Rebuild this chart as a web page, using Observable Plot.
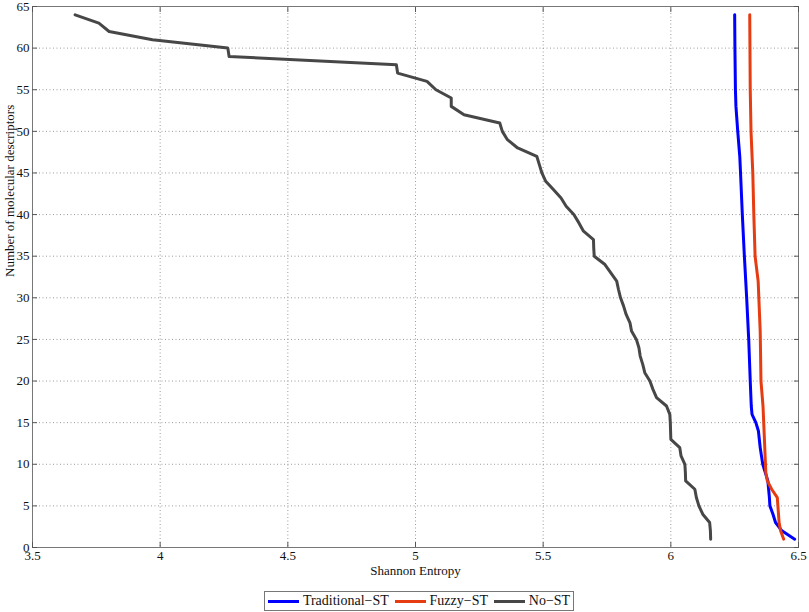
<!DOCTYPE html>
<html>
<head>
<meta charset="utf-8">
<script src="https://cdn.jsdelivr.net/npm/d3@7"></script>
<script src="https://cdn.jsdelivr.net/npm/@observablehq/plot@0.6"></script>
<style>
  html, body { margin: 0; padding: 0; background: #fff; }
  #wrap { position: relative; width: 809px; height: 612px; font-family: "Liberation Serif", "Times New Roman", Times, serif; }
  #chart svg, #chart svg text { font-family: "Liberation Serif", "Times New Roman", Times, serif !important; }
  #legend { position: absolute; left: 264px; top: 591px; width: 308px; height: 18px; border: 1px solid #777; background: #fff;
            display: flex; align-items: center; justify-content: space-around; font-size: 14px; color: #111; box-sizing: content-box;
            font-family: "Liberation Serif", "Times New Roman", Times, serif; }
  .item { display: flex; align-items: center; }
  .sw { width: 31px; height: 3px; margin-right: 4px; }
</style>
</head>
<body>
<div id="wrap"><div id="chart"></div><div id="legend"></div></div>
<script>
const seriesNames = ["Traditional\u2212ST", "Fuzzy\u2212ST", "No\u2212ST"];
const seriesColors = ["#0000ff", "#e63c12", "#474747"];

// No-ST: descriptors count n and Shannon entropy v
const noST_n = [64,63,62,61,60,59,58,57,56,55,54,53,52,51,50,49,48,47,46,45,44,43,42,41,40,39,38,37,36,35,34,33,32,31,30,29,28,27,26,25,24,23,22,21,20,19,18,17,16,15,14,13,12,11,10,9,8,7,6,5,4,3,2,1];
const noST_v = [3.667,3.76,3.80,3.97,4.265,4.27,4.925,4.93,5.045,5.08,5.14,5.14,5.19,5.33,5.34,5.36,5.40,5.475,5.485,5.495,5.51,5.54,5.57,5.59,5.62,5.64,5.658,5.697,5.698,5.70,5.742,5.765,5.788,5.795,5.803,5.815,5.825,5.84,5.846,5.865,5.875,5.88,5.89,5.898,5.918,5.93,5.944,5.983,5.996,5.998,5.999,6.0,6.035,6.04,6.055,6.057,6.058,6.094,6.10,6.11,6.125,6.152,6.155,6.156];

// Traditional-ST
const trad_n = [64,60,55,53,50,47,45,40,35,30,25,20,17,16,15,14,12,11,10,9,8,7,6,5,4,3,2,1];
const trad_v = [6.250,6.251,6.253,6.255,6.262,6.270,6.273,6.280,6.288,6.297,6.305,6.311,6.315,6.318,6.333,6.343,6.350,6.355,6.360,6.370,6.380,6.383,6.386,6.388,6.400,6.410,6.435,6.485];

// Fuzzy-ST
const fuzzy_n = [64,55,50,45,40,35,33,32,26,20,17,9,8,7,6,3,2,1];
const fuzzy_v = [6.309,6.311,6.314,6.321,6.325,6.330,6.338,6.342,6.350,6.353,6.361,6.372,6.378,6.395,6.417,6.424,6.430,6.442];

const xTicks = [3.5,4,4.5,5,5.5,6,6.5];
const yTicks = [0,5,10,15,20,25,30,35,40,45,50,55,60,65];

const rows = [];
[[trad_n, trad_v, 0], [fuzzy_n, fuzzy_v, 1], [noST_n, noST_v, 2]].forEach(([ns, vs, k]) => {
  ns.forEach((n, i) => rows.push({series: seriesNames[k], n, v: vs[i]}));
});

const font = '"Liberation Serif", "Times New Roman", Times, serif';
const plot = Plot.plot({
  width: 809,
  height: 583,
  marginLeft: 32,
  marginRight: 11,
  marginTop: 6,
  marginBottom: 36,
  style: {fontFamily: font, fontSize: "13px", color: "#111", background: "#fff"},
  x: {domain: [3.5, 6.5]},
  y: {domain: [0, 65]},
  color: {domain: seriesNames, range: seriesColors},
  marks: [
    Plot.gridX(xTicks.slice(1, -1), {stroke: "#9a9a9a", strokeOpacity: 1, strokeDasharray: "1,2.5"}),
    Plot.gridY(yTicks.slice(1, -1), {stroke: "#9a9a9a", strokeOpacity: 1, strokeDasharray: "1,2.5"}),
    Plot.line(rows, {x: "v", y: "n", z: "series", stroke: "series", strokeWidth: 3, strokeLinejoin: "round"}),
    Plot.frame({stroke: "#777"}),
    Plot.axisX(xTicks, {anchor: "bottom", tickSize: -5, stroke: "#555", tickFormat: () => "", label: null}),
    Plot.axisX(xTicks, {anchor: "top", tickSize: -5, stroke: "#555", tickFormat: () => "", label: null}),
    Plot.axisY(yTicks, {anchor: "left", tickSize: -5, stroke: "#555", tickFormat: () => "", label: null}),
    Plot.axisY(yTicks, {anchor: "right", tickSize: -5, stroke: "#555", tickFormat: () => "", label: null}),
    Plot.axisX(xTicks, {anchor: "bottom", tickSize: 0, tickPadding: 3, tickFormat: d => String(d), label: null, fontSize: 13}),
    Plot.axisY(yTicks, {anchor: "left", tickSize: 0, tickPadding: 3, tickFormat: d => String(d), label: null, fontSize: 13}),
    Plot.text(["Shannon Entropy"], {frameAnchor: "bottom", dy: 27, fontSize: 13}),
    Plot.text(["Number of molecular descriptors"], {frameAnchor: "left", rotate: -90, dx: -23, fontSize: 13})
  ]
});
document.getElementById("chart").appendChild(plot);

const legend = document.getElementById("legend");
seriesNames.forEach((name, i) => {
  const it = document.createElement("div");
  it.className = "item";
  const sw = document.createElement("span");
  sw.className = "sw";
  sw.style.background = seriesColors[i];
  const tx = document.createElement("span");
  tx.textContent = name;
  it.appendChild(sw); it.appendChild(tx);
  legend.appendChild(it);
});
</script>
</body>
</html>
